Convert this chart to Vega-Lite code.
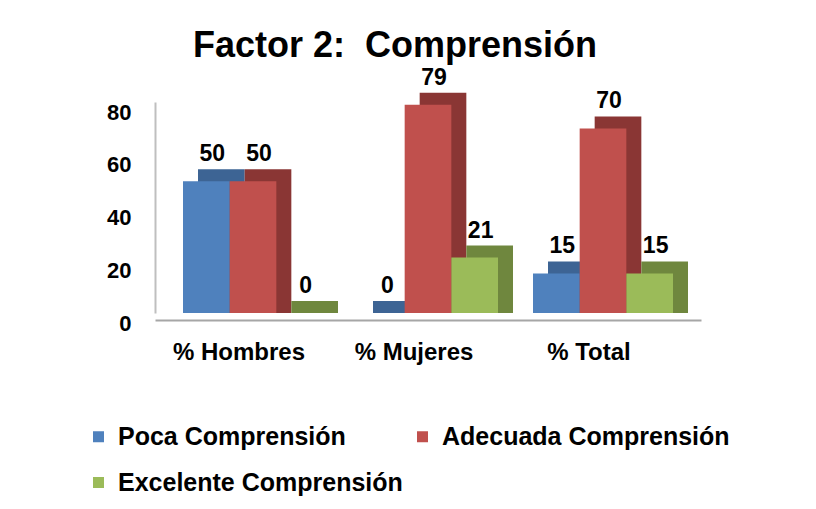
{
  "$schema": "https://vega.github.io/schema/vega-lite/v6.json",
  "autosize": "none",
  "width": 546,
  "height": 211,
  "padding": {"left": 155, "top": 102, "right": 115, "bottom": 196},
  "background": "white",
  "config": {
    "view": {"stroke": null},
    "font": "Liberation Sans",
    "text": {"font": "Liberation Sans"}
  },
  "title": {
    "text": "Factor 2:\u00a0 Comprensión",
    "font": "Liberation Sans",
    "fontSize": 36,
    "fontWeight": "bold",
    "color": "black",
    "anchor": "middle",
    "dx": -33,
    "offset": 2
  },
  "data": {
    "values": [
      {"grupo": "% Hombres", "serie": "Poca Comprensión", "valor": 50},
      {"grupo": "% Hombres", "serie": "Adecuada Comprensión", "valor": 50},
      {"grupo": "% Hombres", "serie": "Excelente Comprensión", "valor": 0},
      {"grupo": "% Mujeres", "serie": "Poca Comprensión", "valor": 0},
      {"grupo": "% Mujeres", "serie": "Adecuada Comprensión", "valor": 79},
      {"grupo": "% Mujeres", "serie": "Excelente Comprensión", "valor": 21},
      {"grupo": "% Total", "serie": "Poca Comprensión", "valor": 15},
      {"grupo": "% Total", "serie": "Adecuada Comprensión", "valor": 70},
      {"grupo": "% Total", "serie": "Excelente Comprensión", "valor": 15}
    ]
  },
  "encoding": {
    "x": {
      "field": "grupo",
      "type": "nominal",
      "sort": ["% Hombres", "% Mujeres", "% Total"],
      "scale": {"paddingInner": 0.2, "paddingOuter": 0.16},
      "axis": {
        "title": null,
        "domain": true,
        "domainColor": "#A6A6A6",
        "domainWidth": 2,
        "offset": 7,
        "ticks": false,
        "labelAngle": 0,
        "labelFont": "Liberation Sans",
        "labelFontSize": 24,
        "labelFontWeight": "bold",
        "labelColor": "black",
        "labelPadding": 20,
        "labelOffset": -14
      }
    },
    "y": {
      "field": "valor",
      "type": "quantitative",
      "scale": {"domain": [0, 80], "nice": false},
      "axis": {
        "title": null,
        "values": [0, 20, 40, 60, 80],
        "grid": false,
        "ticks": false,
        "domain": true,
        "domainColor": "#BFBFBF",
        "domainWidth": 2,
        "labelFont": "Liberation Sans",
        "labelFontSize": 22,
        "labelFontWeight": "bold",
        "labelColor": "black",
        "labelPadding": 24,
        "labelOffset": 10
      }
    }
  },
  "layer": [
    {
      "mark": {"type": "bar", "yOffset": -12, "y2Offset": 0},
      "encoding": {
        "xOffset": {
          "field": "serie",
          "type": "nominal",
          "sort": ["Poca Comprensión", "Adecuada Comprensión", "Excelente Comprensión"],
          "scale": {"range": [15, 155]}
        },
        "y2": {"datum": 0},
        "color": {
          "field": "serie",
          "type": "nominal",
          "sort": ["Poca Comprensión", "Adecuada Comprensión", "Excelente Comprensión"],
          "scale": {"range": ["#3D6494", "#8A3634", "#6F873E"]},
          "legend": null
        }
      }
    },
    {
      "mark": {"type": "bar"},
      "encoding": {
        "xOffset": {
          "field": "serie",
          "type": "nominal",
          "sort": ["Poca Comprensión", "Adecuada Comprensión", "Excelente Comprensión"]
        },
        "color": {
          "field": "serie",
          "type": "nominal",
          "sort": ["Poca Comprensión", "Adecuada Comprensión", "Excelente Comprensión"],
          "scale": {"range": ["#4F81BD", "#C0504D", "#9BBB59"]},
          "legend": {
            "title": null,
            "orient": "none",
            "legendX": -69,
            "legendY": 322,
            "direction": "horizontal",
            "columns": 2,
            "columnPadding": 7,
            "rowPadding": 20,
            "symbolType": "square",
            "symbolSize": 121,
            "symbolStrokeWidth": 0,
            "labelFont": "Liberation Sans",
            "labelFontSize": 25,
            "labelFontWeight": "bold",
            "labelColor": "black",
            "labelOffset": 7,
            "labelLimit": 400
          }
        }
      }
    },
    {
      "mark": {
        "type": "text",
        "font": "Liberation Sans",
        "fontSize": 23,
        "fontWeight": "bold",
        "color": "black",
        "baseline": "bottom",
        "dx": 6,
        "dy": -15
      },
      "encoding": {
        "xOffset": {
          "field": "serie",
          "type": "nominal",
          "sort": ["Poca Comprensión", "Adecuada Comprensión", "Excelente Comprensión"]
        },
        "text": {"field": "valor", "type": "quantitative"}
      }
    }
  ],
  "resolve": {"scale": {"color": "independent", "xOffset": "independent"}}
}
